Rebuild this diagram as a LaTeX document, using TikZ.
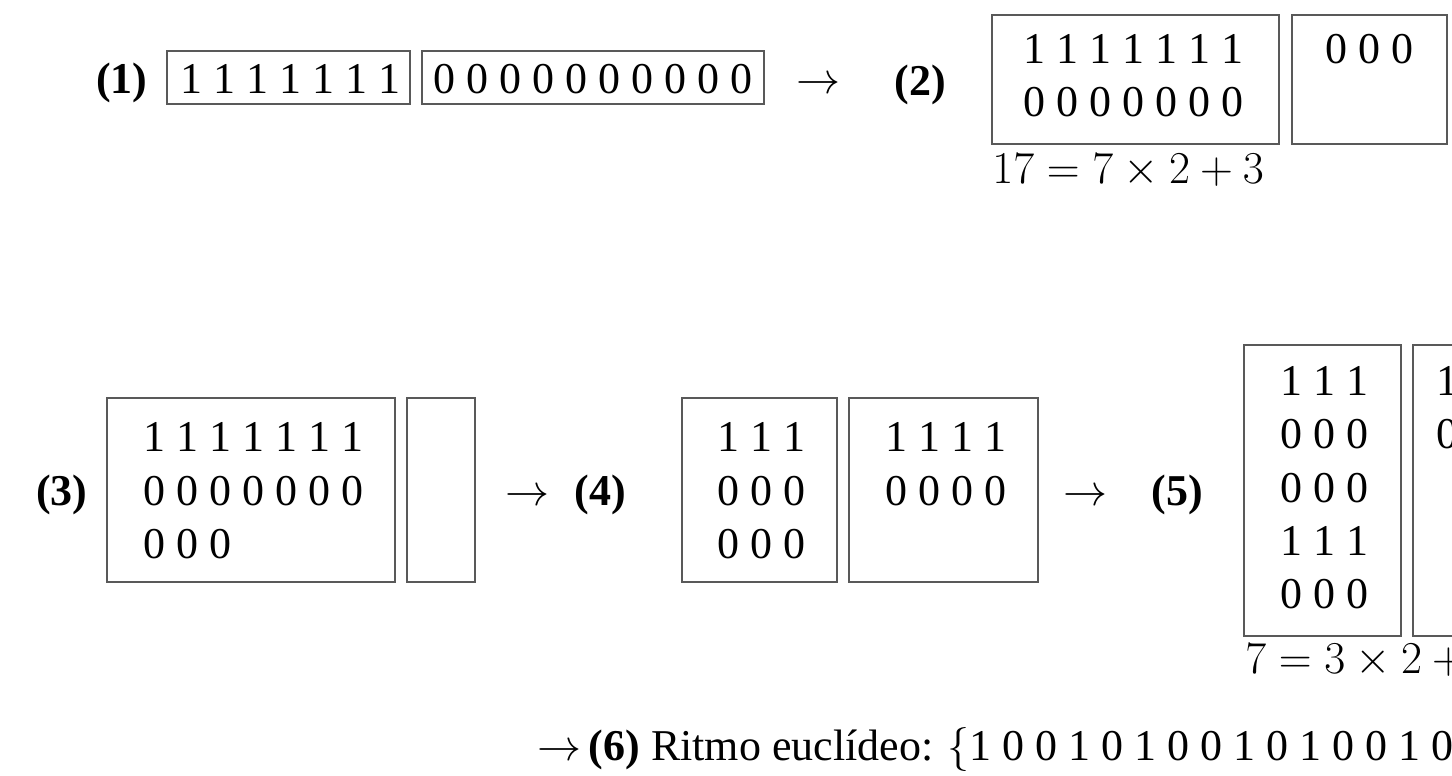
\documentclass[tikz,border=0pt]{standalone}
\usepackage{fix-cm}
\usepackage{fontspec}
\setmainfont{Liberation Serif}
\usetikzlibrary{fit}
\begin{document}
\begin{tikzpicture}[x=0.5pt,y=-0.5pt,
  box/.style={draw=black!65, line width=0.75pt, inner sep=0pt},
  txt/.style={font=\fontsize{22}{24}\selectfont, inner sep=0pt, text height=15pt, text depth=0pt},
  row/.style={txt, anchor=west},
  lab/.style={font=\fontsize{22}{24}\selectfont\bfseries, inner sep=0pt, text height=15pt, text depth=0pt},
  eq/.style={font=\fontsize{22.8}{25}\selectfont, inner sep=0pt, anchor=west, text height=15pt, text depth=0pt}]
\useasboundingbox (0,0) rectangle (1452,776);
\clip (0,0) rectangle (1452,776);
% ---------- step 1
\node[lab] (l1) at (122,78) {(1)};
\node[box, fit={(167,51) (410,104)}] (A) {};
\node[box, fit={(422,51) (764,104)}] (B) {};
\node[row] (a1) at (180,78) {1 1 1 1 1 1 1};
\node[row] (b1) at (433,78) {0 0 0 0 0 0 0 0 0 0};
\node[txt] (ar1) at (818,78) {$\rightarrow$};
% ---------- step 2
\node[lab] (l2) at (920,80) {(2)};
\node[box, fit={(992,15) (1279,144)}] (C) {};
\node[box, fit={(1292,15) (1447,144)}] (D) {};
\node[row] (c1) at (1023,48) {1 1 1 1 1 1 1};
\node[row] (c2) at (1023,101) {0 0 0 0 0 0 0};
\node[row] (d1) at (1325,48) {0 0 0};
\node[eq] (e2) at (992,168) {$17 = 7\times 2 + 3$};
% ---------- step 3
\node[lab] (l3) at (62,490) {(3)};
\node[box, fit={(107,398) (395,582)}] (E) {};
\node[box, fit={(407,398) (475,582)}] (F) {};
\node[row] (e1) at (143,436) {1 1 1 1 1 1 1};
\node[row] (e2r) at (143,490) {0 0 0 0 0 0 0};
\node[row] (e3) at (143,543) {0 0 0};
\node[txt] (ar3) at (527,490) {$\rightarrow$};
% ---------- step 4
\node[lab] (l4) at (600,490) {(4)};
\node[box, fit={(682,398) (837,582)}] (G) {};
\node[box, fit={(849,398) (1038,582)}] (H) {};
\node[row] (g1) at (717,436) {1 1 1};
\node[row] (g2) at (717,490) {0 0 0};
\node[row] (g3) at (717,543) {0 0 0};
\node[row] (h1) at (885,436) {1 1 1 1};
\node[row] (h2) at (885,490) {0 0 0 0};
\node[txt] (ar4) at (1085,490) {$\rightarrow$};
% ---------- step 5
\node[lab] (l5) at (1177,490) {(5)};
\node[box, fit={(1244,345) (1401,636)}] (I) {};
\node[box, fit={(1413,345) (1481,636)}] (J) {};
\node[row] (i1) at (1280,380) {1 1 1};
\node[row] (i2) at (1280,433) {0 0 0};
\node[row] (i3) at (1280,487) {0 0 0};
\node[row] (i4) at (1280,540) {1 1 1};
\node[row] (i5) at (1280,593) {0 0 0};
\node[row] (j1) at (1436,380) {1};
\node[row] (j2) at (1436,433) {0};
\node[eq] (e5) at (1245,658) {$7 = 3\times 2 + 1$};
% ---------- step 6
\node[row] (r6) at (537,745) {$\rightarrow$\,\textbf{(6)} Ritmo euclídeo: $\{$1 0 0 1 0 1 0 0 1 0 1 0 0 1 0 1 0$\}$};
\end{tikzpicture}
\end{document}
